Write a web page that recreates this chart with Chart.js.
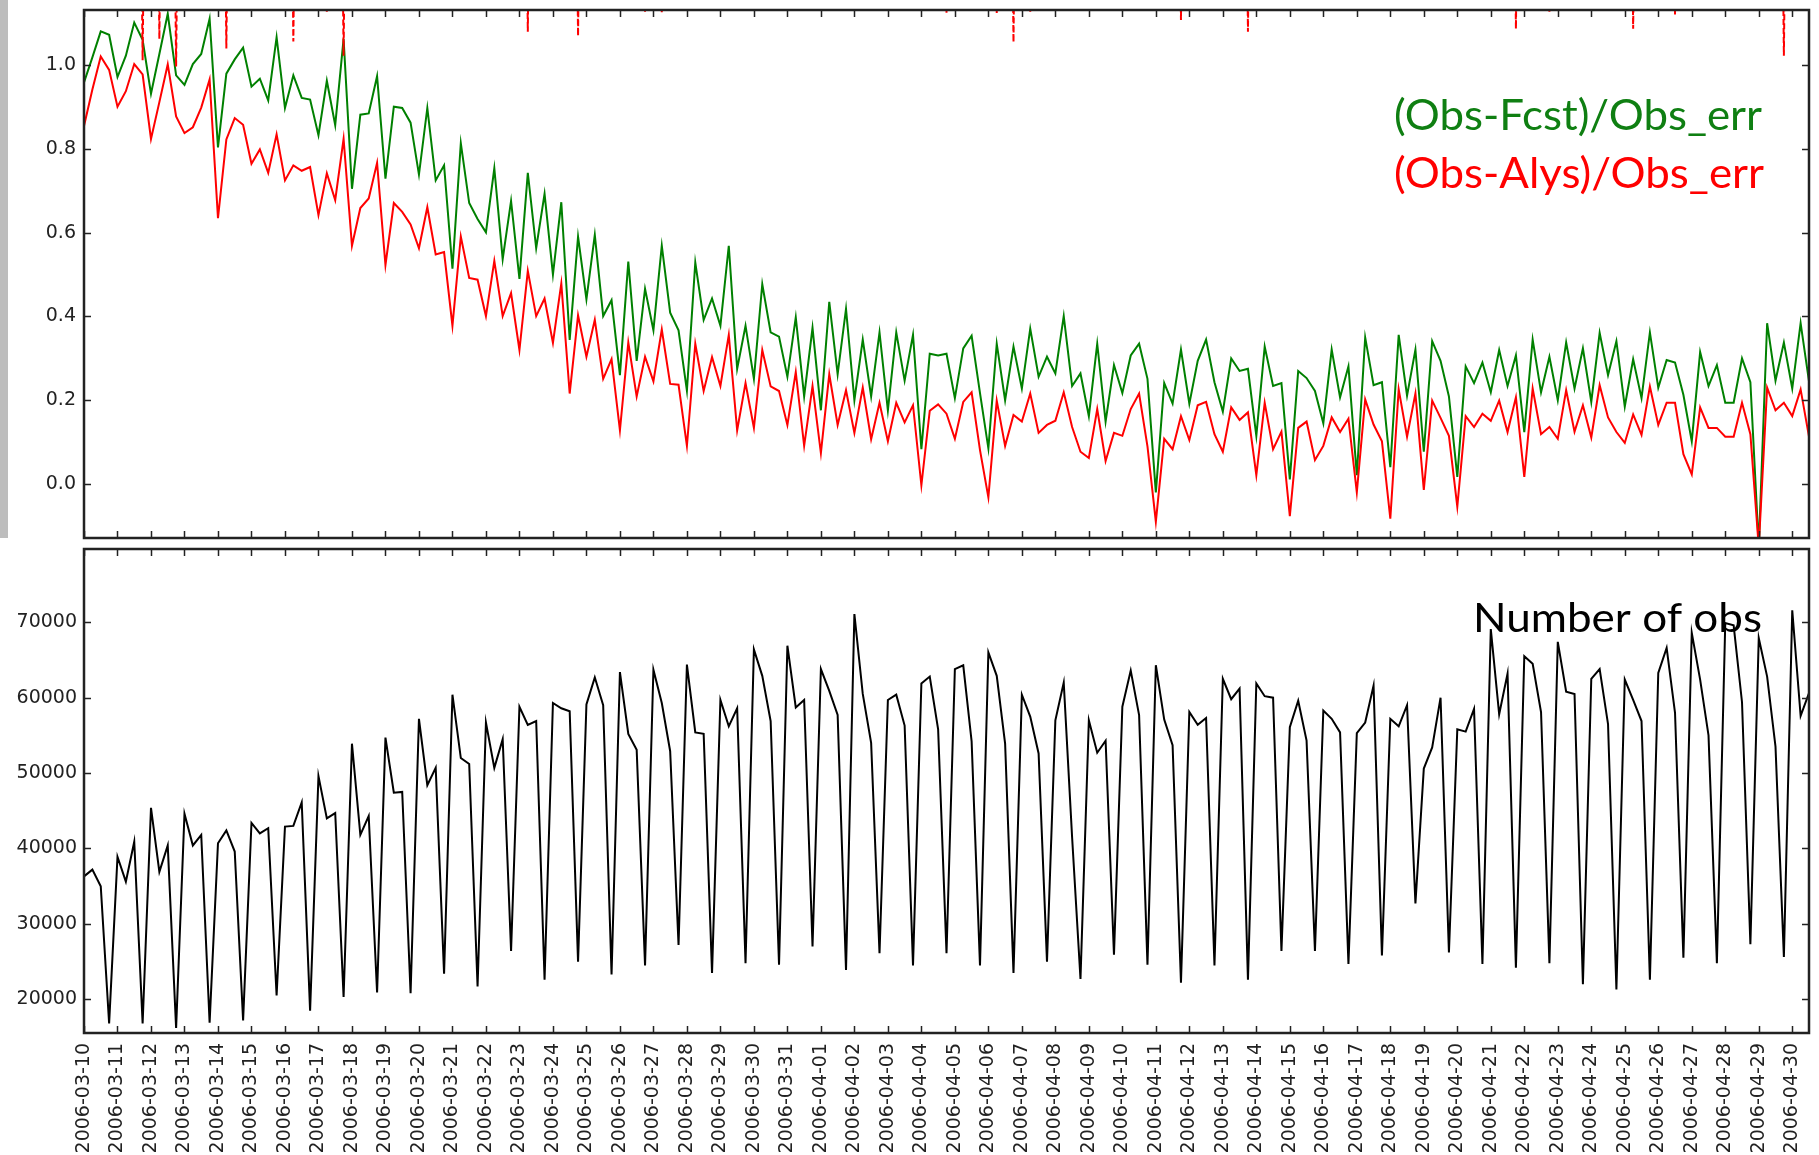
<!DOCTYPE html>
<html>
<head>
<meta charset="utf-8">
<title>Obs departures and number of obs</title>
<script src="https://cdn.jsdelivr.net/npm/chart.js@4.4.1/dist/chart.umd.min.js"></script>
<style>
  html, body { margin: 0; padding: 0; background: #fff; }
  #wrap { position: relative; width: 1819px; height: 1155px; overflow: hidden; }
  #strip { position: absolute; left: 0; top: 0; width: 8px; height: 538px; background: #bdbdbd; }
  #topCanvas { position: absolute; left: 0; top: 0; }
  #botCanvas { position: absolute; left: 0; top: 545px; }
</style>
</head>
<body>
<div id="wrap">
  <canvas id="topCanvas" width="1819" height="545"></canvas>
  <canvas id="botCanvas" width="1819" height="610"></canvas>
  <div id="strip"></div>
</div>
<script>
// --- dados (6-horário, 2006-03-10 00Z .. 2006-04-30 12Z) ---
const dayLabels = [
  '2006-03-10', '2006-03-11', '2006-03-12', '2006-03-13', '2006-03-14', '2006-03-15', '2006-03-16',
  '2006-03-17', '2006-03-18', '2006-03-19', '2006-03-20', '2006-03-21', '2006-03-22', '2006-03-23',
  '2006-03-24', '2006-03-25', '2006-03-26', '2006-03-27', '2006-03-28', '2006-03-29', '2006-03-30',
  '2006-03-31', '2006-04-01', '2006-04-02', '2006-04-03', '2006-04-04', '2006-04-05', '2006-04-06',
  '2006-04-07', '2006-04-08', '2006-04-09', '2006-04-10', '2006-04-11', '2006-04-12', '2006-04-13',
  '2006-04-14', '2006-04-15', '2006-04-16', '2006-04-17', '2006-04-18', '2006-04-19', '2006-04-20',
  '2006-04-21', '2006-04-22', '2006-04-23', '2006-04-24', '2006-04-25', '2006-04-26', '2006-04-27',
  '2006-04-28', '2006-04-29', '2006-04-30'
];
const stepsPerDay = 4;

// (Obs-Fcst)/Obs_err
const fcstNorm = [
  0.959, 1.019, 1.081, 1.073, 0.972, 1.023, 1.102, 1.061, 0.932, 1.027,
  1.123, 0.976, 0.953, 1.003, 1.027, 1.111, 0.804, 0.980, 1.014, 1.042,
  0.949, 0.968, 0.916, 1.067, 0.898, 0.976, 0.922, 0.918, 0.833, 0.963,
  0.857, 1.063, 0.705, 0.882, 0.885, 0.974, 0.729, 0.901, 0.898, 0.863,
  0.739, 0.898, 0.725, 0.761, 0.514, 0.814, 0.671, 0.633, 0.601, 0.754,
  0.537, 0.676, 0.490, 0.743, 0.563, 0.693, 0.500, 0.673, 0.344, 0.591,
  0.441, 0.595, 0.401, 0.439, 0.260, 0.531, 0.294, 0.466, 0.367, 0.569,
  0.409, 0.367, 0.223, 0.529, 0.392, 0.443, 0.378, 0.569, 0.275, 0.378,
  0.251, 0.477, 0.362, 0.352, 0.256, 0.398, 0.209, 0.373, 0.176, 0.435,
  0.262, 0.418, 0.200, 0.345, 0.209, 0.362, 0.176, 0.362, 0.247, 0.356,
  0.083, 0.311, 0.307, 0.311, 0.205, 0.324, 0.354, 0.217, 0.085, 0.335,
  0.200, 0.328, 0.228, 0.371, 0.256, 0.304, 0.264, 0.401, 0.234, 0.264,
  0.162, 0.335, 0.149, 0.284, 0.217, 0.307, 0.335, 0.251, -0.020, 0.241,
  0.192, 0.321, 0.192, 0.294, 0.345, 0.243, 0.173, 0.300, 0.270, 0.275,
  0.115, 0.328, 0.234, 0.241, 0.011, 0.270, 0.253, 0.222, 0.145, 0.321,
  0.207, 0.281, 0.021, 0.350, 0.236, 0.243, 0.040, 0.356, 0.211, 0.321,
  0.077, 0.341, 0.294, 0.209, 0.017, 0.281, 0.241, 0.290, 0.219, 0.320,
  0.234, 0.307, 0.124, 0.345, 0.219, 0.304, 0.200, 0.338, 0.228, 0.324,
  0.196, 0.361, 0.260, 0.341, 0.185, 0.298, 0.205, 0.362, 0.230, 0.296,
  0.290, 0.213, 0.102, 0.315, 0.234, 0.284, 0.194, 0.194, 0.300, 0.243,
  -0.150, 0.384, 0.247, 0.338, 0.228, 0.384, 0.245
];

// (Obs-Alys)/Obs_err
const alysNorm = [
  0.855, 0.942, 1.021, 0.989, 0.901, 0.938, 1.003, 0.978, 0.824, 0.912,
  1.002, 0.878, 0.838, 0.852, 0.899, 0.966, 0.635, 0.823, 0.874, 0.858,
  0.765, 0.799, 0.743, 0.835, 0.725, 0.761, 0.748, 0.757, 0.642, 0.742,
  0.678, 0.824, 0.569, 0.659, 0.682, 0.767, 0.523, 0.671, 0.650, 0.620,
  0.563, 0.661, 0.548, 0.554, 0.378, 0.591, 0.492, 0.488, 0.401, 0.533,
  0.401, 0.456, 0.320, 0.509, 0.401, 0.443, 0.337, 0.479, 0.216, 0.403,
  0.304, 0.392, 0.251, 0.298, 0.128, 0.338, 0.209, 0.304, 0.245, 0.369,
  0.239, 0.237, 0.091, 0.335, 0.222, 0.303, 0.234, 0.356, 0.128, 0.241,
  0.134, 0.320, 0.233, 0.222, 0.141, 0.267, 0.091, 0.234, 0.074, 0.262,
  0.141, 0.224, 0.122, 0.230, 0.107, 0.194, 0.102, 0.194, 0.147, 0.188,
  -0.003, 0.175, 0.190, 0.168, 0.108, 0.196, 0.219, 0.081, -0.032, 0.199,
  0.091, 0.165, 0.149, 0.216, 0.122, 0.141, 0.151, 0.219, 0.136, 0.077,
  0.062, 0.179, 0.055, 0.122, 0.115, 0.179, 0.216, 0.090, -0.090, 0.108,
  0.083, 0.162, 0.105, 0.188, 0.196, 0.119, 0.077, 0.183, 0.153, 0.171,
  0.021, 0.194, 0.083, 0.125, -0.077, 0.134, 0.149, 0.057, 0.091, 0.159,
  0.124, 0.156, -0.020, 0.202, 0.142, 0.102, -0.083, 0.226, 0.113, 0.216,
  -0.014, 0.199, 0.158, 0.115, -0.054, 0.162, 0.136, 0.168, 0.151, 0.199,
  0.124, 0.207, 0.017, 0.228, 0.119, 0.136, 0.108, 0.224, 0.125, 0.188,
  0.111, 0.236, 0.159, 0.124, 0.098, 0.166, 0.117, 0.233, 0.141, 0.194,
  0.194, 0.071, 0.023, 0.183, 0.134, 0.134, 0.113, 0.113, 0.194, 0.119,
  -0.150, 0.230, 0.176, 0.194, 0.162, 0.226, 0.113
];

// série tracejada vermelha (quase sempre fora da escala, só os mergulhos aparecem)
const dashIdx = [7, 9, 11, 17, 25, 29, 31, 45, 53, 59, 67, 69, 103, 109, 111, 113, 131, 139, 171, 175, 185, 190, 203];
const dashVal = [1.012, 1.063, 0.997, 1.040, 1.057, 1.125, 1.023, 1.130, 1.080, 1.070, 1.128, 1.125,
                 1.125, 1.125, 1.055, 1.128, 1.108, 1.080, 1.087, 1.128, 1.087, 1.121, 1.023];
const dashOffScale = 3.0;

// Number of obs
const nObs = [
  36300, 37200, 35000, 16800, 38900, 35600, 40900, 16800, 45400, 36900,
  40400, 16200, 44600, 40400, 41800, 16900, 40700, 42400, 39600, 17200,
  43400, 42000, 42700, 20500, 42900, 43000, 46100, 18500, 49600, 44000,
  44700, 20300, 53900, 41800, 44300, 20900, 54700, 47400, 47500, 20800,
  57200, 48400, 50700, 23400, 60400, 52000, 51200, 21700, 56700, 50700,
  54500, 26400, 58800, 56400, 56900, 22600, 59300, 58600, 58200, 25000,
  59100, 62700, 59000, 23300, 63400, 55200, 53100, 24500, 63700, 59300,
  52900, 27200, 64400, 55400, 55200, 23500, 59700, 56200, 58600, 24800,
  66400, 62900, 56900, 24600, 66900, 58700, 59700, 27000, 63800, 60900,
  57700, 23900, 71100, 60500, 54000, 26100, 59700, 60400, 56300, 24500,
  61900, 62800, 55800, 26100, 63800, 64300, 54200, 24500, 66000, 62900,
  53900, 23500, 60400, 57500, 52600, 25000, 57000, 62000, 41500, 22700,
  57000, 52700, 54300, 25900, 58800, 63600, 57700, 24600, 64300, 57100,
  53700, 22200, 58100, 56400, 57300, 24500, 62500, 59800, 61200, 22600,
  61900, 60200, 60000, 26400, 56100, 59600, 54300, 26400, 58300, 57200,
  55400, 24700, 55300, 56700, 61600, 25800, 57200, 56200, 59000, 32700,
  50600, 53400, 60000, 26200, 55800, 55500, 58500, 24700, 69100, 57800,
  63200, 24200, 65500, 64500, 58100, 24800, 67400, 60800, 60500, 22000,
  62500, 63800, 56500, 21300, 62400, 59700, 56900, 22600, 63300, 66600,
  58000, 25500, 68600, 62400, 55000, 24800, 69900, 69600, 59400, 27300,
  67900, 62800, 53500, 25600, 71600, 57600, 60600
];

const topYTicks = [0.0, 0.2, 0.4, 0.6, 0.8, 1.0];
const botYTicks = [20000, 30000, 40000, 50000, 60000, 70000];

// --- helpers ---
const toPoints = arr => arr.map((v, i) => ({ x: i / stepsPerDay, y: v }));
const dashSeries = fcstNorm.map((_, i) => {
    const k = dashIdx.indexOf(i);
    return k >= 0 ? dashVal[k] : dashOffScale;
});
const dayValues = dayLabels.map((_, d) => d);

const tickFont = { family: 'DejaVu Sans', size: 19 };
const tickColor = '#222';

// moldura + ticks para dentro (estilo matplotlib)
const framePlugin = {
    id: 'frame',
    afterDraw(chart) {
        const { ctx, chartArea: a, scales } = chart;
        ctx.save();
        ctx.strokeStyle = '#222';
        ctx.lineWidth = 1.5;
        ctx.beginPath();
        dayValues.forEach(d => {
            const px = Math.round(scales.x.getPixelForValue(d)) + 0.5;
            ctx.moveTo(px, a.bottom); ctx.lineTo(px, a.bottom - 7);
            ctx.moveTo(px, a.top); ctx.lineTo(px, a.top + 7);
        });
        scales.y.ticks.forEach(t => {
            const py = Math.round(scales.y.getPixelForValue(t.value)) + 0.5;
            ctx.moveTo(a.left, py); ctx.lineTo(a.left + 7, py);
            ctx.moveTo(a.right, py); ctx.lineTo(a.right - 7, py);
        });
        ctx.stroke();
        ctx.lineWidth = 2.5;
        ctx.strokeRect(a.left, a.top, a.width, a.height);
        ctx.restore();
    }
};

// texto grande ajustado à largura medida no original
function drawFitText(ctx, text, x, baseline, size, width, color) {
    ctx.save();
    ctx.font = `${size}px Lato`;
    ctx.fillStyle = color;
    const w = ctx.measureText(text).width;
    ctx.translate(x, baseline);
    ctx.scale(width / w, 1);
    ctx.fillText(text, 0, 0);
    ctx.restore();
}

// força a área do gráfico para a caixa desejada (em px do canvas)
function pinArea(chart, target) {
    const p = chart.options.layout.padding;
    const a = chart.chartArea;
    p.top += target.top - a.top;
    p.bottom += a.bottom - target.bottom;
    p.right += a.right - target.right;
    chart.update('none');
}

const noScalePad = s => { s.paddingTop = 0; s.paddingBottom = 0; s.paddingLeft = 0; s.paddingRight = 0; };

const xCommon = {
    type: 'linear',
    min: 0,
    max: 51.5,
    grid: { display: false, drawTicks: false },
    border: { display: false }
};

// --- Painel de cima ---
const topChart = new Chart(document.getElementById('topCanvas'), {
    type: 'line',
    data: {
        datasets: [
            { data: toPoints(dashSeries), borderColor: '#ff0000', borderWidth: 2, borderDash: [6, 3], pointRadius: 0, tension: 0, order: 0 },
            { data: toPoints(alysNorm), borderColor: '#ff0000', borderWidth: 2, pointRadius: 0, tension: 0, order: 1 },
            { data: toPoints(fcstNorm), borderColor: '#008000', borderWidth: 2, pointRadius: 0, tension: 0, order: 2 }
        ]
    },
    options: {
        responsive: false,
        animation: false,
        devicePixelRatio: 1,
        events: [],
        layout: { autoPadding: false, padding: { left: 0, top: 10, right: 10, bottom: 7 } },
        plugins: { legend: { display: false }, tooltip: { enabled: false } },
        scales: {
            x: Object.assign({}, xCommon, { display: false }),
            y: {
                min: -0.129,
                max: 1.132,
                afterBuildTicks: s => { s.ticks = topYTicks.map(v => ({ value: v })); },
                afterFit: s => { s.width = 84; noScalePad(s); },
                grid: { display: false, drawTicks: false },
                border: { display: false },
                ticks: { font: tickFont, color: tickColor, padding: 8, callback: v => v.toFixed(1) }
            }
        }
    },
    plugins: [framePlugin, {
        id: 'labels',
        afterDraw(chart) {
            drawFitText(chart.ctx, '(Obs-Fcst)/Obs_err', 1394, 130, 42, 368, '#0f7f12');
            drawFitText(chart.ctx, '(Obs-Alys)/Obs_err', 1394, 188, 42, 370, '#ff0000');
        }
    }]
});
pinArea(topChart, { top: 10, bottom: 538, right: 1809 });

// --- Painel de baixo ---
const botChart = new Chart(document.getElementById('botCanvas'), {
    type: 'line',
    data: {
        datasets: [
            { data: toPoints(nObs), borderColor: '#000', borderWidth: 2, pointRadius: 0, tension: 0 }
        ]
    },
    options: {
        responsive: false,
        animation: false,
        devicePixelRatio: 1,
        events: [],
        layout: { autoPadding: false, padding: { left: 0, top: 4, right: 10, bottom: 0 } },
        plugins: { legend: { display: false }, tooltip: { enabled: false } },
        scales: {
            x: Object.assign({}, xCommon, {
                afterBuildTicks: s => { s.ticks = dayValues.map(v => ({ value: v })); },
                afterFit: s => { s.height = 122; noScalePad(s); },
                ticks: {
                    font: tickFont, color: tickColor, padding: 10,
                    autoSkip: false, minRotation: 90, maxRotation: 90,
                    callback: v => dayLabels[v]
                }
            }),
            y: {
                min: 15530,
                max: 79720,
                afterBuildTicks: s => { s.ticks = botYTicks.map(v => ({ value: v })); },
                afterFit: s => { s.width = 84; noScalePad(s); },
                grid: { display: false, drawTicks: false },
                border: { display: false },
                ticks: { font: tickFont, color: tickColor, padding: 7, callback: v => String(v) }
            }
        }
    },
    plugins: [framePlugin, {
        id: 'label',
        afterDraw(chart) {
            drawFitText(chart.ctx, 'Number of obs', 1473, 87, 41, 289, '#000');
        }
    }]
});
pinArea(botChart, { top: 4, bottom: 488, right: 1809 });
</script>
</body>
</html>
